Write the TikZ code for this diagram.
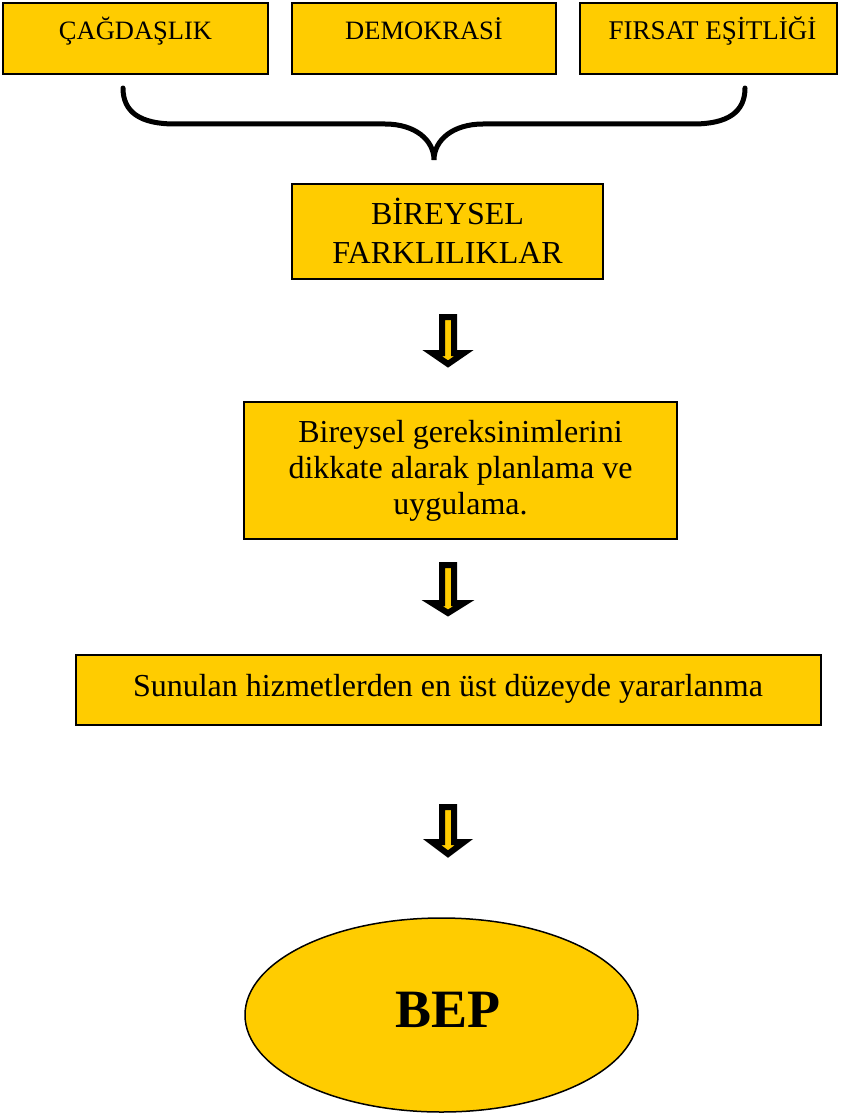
\documentclass[tikz,border=0pt]{standalone}
\usepackage{fontspec}
\setmainfont{Liberation Serif}
\definecolor{gold}{HTML}{FFCC00}
\tikzset{
  boxstyle/.style={draw=black, line width=2.6pt, fill=gold, rectangle, inner sep=0pt},
  txt/.style={inner sep=0pt, align=center},
  bigarrow/.style={draw=black, fill=gold, line width=6pt, miter limit=10},
  bracestyle/.style={draw=black, line width=5pt, line cap=round},
}
\newcommand{\blockarrow}[4]{% x, top, headbase, tip (outer values)
  \path[bigarrow] (#1-6,#2+3) -- (#1+6,#2+3) -- (#1+6,#3+3) -- (#1+16,#3+3) -- (#1,#4-4) -- (#1-16,#3+3) -- (#1-6,#3+3) -- cycle;}
\begin{document}
\begin{tikzpicture}[x=1pt,y=-1pt]
\useasboundingbox (0,0) rectangle (840,1115);
% top boxes
\node[boxstyle, minimum width=265pt, minimum height=71pt] (b1) at (135.5,38.5) {};
\node[boxstyle, minimum width=264pt, minimum height=71pt] (b2) at (424,38.5) {};
\node[boxstyle, minimum width=257pt, minimum height=71pt] (b3) at (708.5,38.5) {};
\node[txt, anchor=base, font=\fontsize{26.5}{32}\selectfont] (t1) at (135.5,40) {ÇAĞDAŞLIK};
\node[txt, anchor=base, font=\fontsize{26.5}{32}\selectfont] (t2) at (424,40) {DEMOKRASİ};
\node[txt, anchor=base, font=\fontsize{27}{32}\selectfont] (t3) at (712.5,40) {FIRSAT EŞİTLİĞİ};
% brace
\draw[bracestyle] (123,88) .. controls (123,112) and (140,124) .. (175,124) -- (385,124)
  .. controls (415,124) and (434,140) .. (434,160)
  .. controls (434,140) and (453,124) .. (483,124) -- (693,124)
  .. controls (728,124) and (745,112) .. (745,88);
% box 2
\node[boxstyle, minimum width=311pt, minimum height=95pt] (b4) at (447.5,231.5) {};
\node[txt, font=\fontsize{32}{39}\selectfont] (t4) at (447.5,231) {BİREYSEL\\FARKLILIKLAR};
% arrow 1
\blockarrow{448}{314}{350}{368}
% box 3
\node[boxstyle, minimum width=433pt, minimum height=137pt] (b5) at (460.5,470.5) {};
\node[txt, font=\fontsize{32}{36}\selectfont] (t5) at (460.5,471) {Bireysel gereksinimlerini\\dikkate alarak planlama ve\\uygulama.};
% arrow 2
\blockarrow{448}{562}{600}{617}
% box 4
\node[boxstyle, minimum width=745pt, minimum height=70pt] (b6) at (448.5,690) {};
\node[txt, anchor=base, font=\fontsize{32}{36}\selectfont] (t6) at (448,696) {Sunulan hizmetlerden en üst düzeyde yararlanma};
% arrow 3
\blockarrow{448}{804}{839}{858}
% ellipse
\fill[gold] (441.5,1015) ellipse [x radius=196.5pt, y radius=97pt];
\draw[black, line width=1.5pt] (441.5,1015) ellipse [x radius=196.5pt, y radius=97pt];
\node[txt, anchor=base, font=\fontsize{54}{60}\selectfont\bfseries] (bep) at (448,1027) {BEP};
\end{tikzpicture}
\end{document}
